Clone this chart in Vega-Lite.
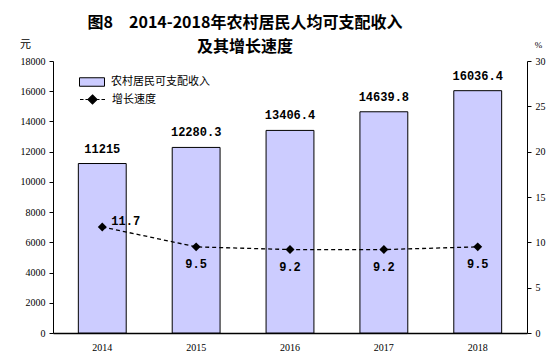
{
  "$schema": "https://vega.github.io/schema/vega-lite/v6.json",
  "width": 474,
  "height": 272,
  "autosize": {"type": "none"},
  "padding": {"left": 53, "top": 61, "right": 25, "bottom": 27},
  "background": "white",
  "title": {
    "text": ["图8　2014-2018年农村居民人均可支配收入", "及其增长速度"],
    "font": "Noto Sans CJK SC",
    "fontSize": 16,
    "fontWeight": "bold",
    "color": "black",
    "anchor": "middle",
    "frame": "group",
    "dx": -45,
    "dy": 25,
    "offset": 8,
    "lineHeight": 24
  },
  "data": {
    "values": [
      {"year": "2014", "income": 11215, "growth": 11.7, "incomeLabel": "11215"},
      {"year": "2015", "income": 12280.3, "growth": 9.5, "incomeLabel": "12280.3"},
      {"year": "2016", "income": 13406.4, "growth": 9.2, "incomeLabel": "13406.4"},
      {"year": "2017", "income": 14639.8, "growth": 9.2, "incomeLabel": "14639.8"},
      {"year": "2018", "income": 16036.4, "growth": 9.5, "incomeLabel": "16036.4"}
    ]
  },
  "config": {
    "view": {"stroke": null},
    "axis": {
      "domainColor": "black",
      "tickColor": "black",
      "labelColor": "black",
      "labelFont": "Liberation Serif",
      "labelFontSize": 10,
      "grid": false,
      "titleFont": "Noto Sans CJK SC",
      "titleFontWeight": "normal",
      "titleFontSize": 11,
      "titleColor": "black"
    },
    "legend": {
      "labelFont": "Noto Sans CJK SC",
      "labelFontSize": 11,
      "labelColor": "black",
      "orient": "none",
      "title": null
    }
  },
  "encoding": {
    "x": {
      "field": "year",
      "type": "ordinal",
      "scale": {"paddingInner": 0.49, "paddingOuter": 0.27},
      "axis": {"title": null, "labelAngle": 0, "ticks": false, "labelPadding": 9, "domainWidth": 1.5}
    }
  },
  "layer": [
    {
      "encoding": {
        "y": {
          "field": "income",
          "type": "quantitative",
          "scale": {"domain": [0, 18000]},
          "axis": {
            "values": [0, 2000, 4000, 6000, 8000, 10000, 12000, 14000, 16000, 18000],
            "format": "d",
            "title": "元",
            "titleAngle": 0,
            "titleX": -28,
            "titleY": -12,
            "titleAlign": "center",
            "tickSize": 4,
            "labelPadding": 4
          }
        }
      },
      "layer": [
        {
          "mark": {"type": "bar", "stroke": "black", "strokeWidth": 1},
          "encoding": {
            "fill": {
              "datum": "农村居民可支配收入",
              "scale": {"range": ["#ccccff"]},
              "legend": {
                "legendX": 26,
                "legendY": 8,
                "symbolType": "M-1,-0.34H1V0.34H-1Z",
                "symbolSize": 625,
                "symbolStrokeColor": "black",
                "symbolStrokeWidth": 1,
                "labelOffset": 6
              }
            }
          }
        },
        {
          "mark": {"type": "text", "baseline": "bottom", "dy": -8, "font": "Liberation Mono", "fontSize": 12, "fontWeight": "bold", "color": "black"},
          "encoding": {"text": {"field": "incomeLabel"}}
        }
      ]
    },
    {
      "encoding": {
        "y": {
          "field": "growth",
          "type": "quantitative",
          "scale": {"domain": [0, 30]},
          "axis": {
            "orient": "right",
            "values": [0, 5, 10, 15, 20, 25, 30],
            "title": "%",
            "titleAngle": 0,
            "titleX": 11,
            "titleY": -12,
            "titleAlign": "center",
            "titleFont": "Liberation Serif",
            "titleFontSize": 9,
            "tickSize": 4,
            "labelPadding": 4
          }
        }
      },
      "layer": [
        {
          "mark": {"type": "line", "strokeDash": [4, 3], "strokeWidth": 1.3},
          "encoding": {
            "stroke": {
              "datum": "增长速度",
              "scale": {"range": ["black"]},
              "legend": {
                "legendX": 26,
                "legendY": 25,
                "symbolType": "M-1,0H-0.72M-0.56,0H-0.4M0.4,0H0.56M0.72,0H1M0,-0.36L0.36,0L0,0.36L-0.36,0Z",
                "symbolSize": 625,
                "symbolStrokeWidth": 1.2,
                "labelOffset": 6,
                "encode": {"symbols": {"update": {"fill": {"value": "black"}, "stroke": {"value": "black"}}}}
              }
            }
          }
        },
        {
          "mark": {"type": "point", "shape": "diamond", "filled": true, "color": "black", "size": 80, "opacity": 1}
        },
        {
          "transform": [{"filter": "datum.year == '2014'"}],
          "mark": {"type": "text", "align": "left", "baseline": "bottom", "dx": 9, "dy": 1, "font": "Liberation Mono", "fontSize": 12, "fontWeight": "bold", "color": "black"},
          "encoding": {"text": {"field": "growth", "format": ".1f"}}
        },
        {
          "transform": [{"filter": "datum.year != '2014'"}],
          "mark": {"type": "text", "baseline": "top", "dy": 12, "font": "Liberation Mono", "fontSize": 12, "fontWeight": "bold", "color": "black"},
          "encoding": {"text": {"field": "growth", "format": ".1f"}}
        }
      ]
    }
  ],
  "resolve": {"scale": {"y": "independent", "fill": "independent", "stroke": "independent"}}
}
